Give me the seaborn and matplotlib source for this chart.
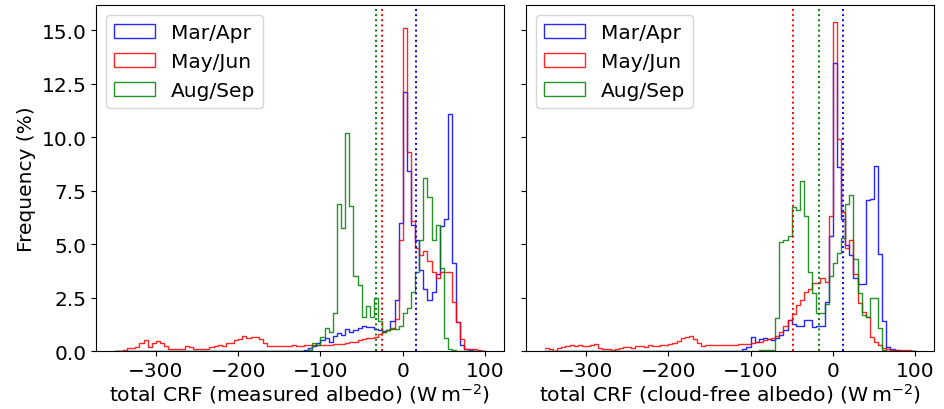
import numpy as np
import pandas as pd
import matplotlib
matplotlib.use("Agg")
import matplotlib.pyplot as plt
from matplotlib.patches import Patch
import seaborn as sns

# Bin edges of the CRF histograms (W m-2), 5 W m-2 wide
bin_edges = np.arange(-350, 101, 5)
bin_centers = bin_edges[:-1] + 2.5

seasons = ["Mar/Apr", "May/Jun", "Aug/Sep"]
colors = ["blue", "red", "green"]

# Frequency (%) per bin, measured albedo
measured_marapr = (
    [0.0] * 45
    + [0.03, 0.05, 0.15, 0.25, 0.4, 0.5, 0.6, 0.45, 0.7, 0.85,
       0.75, 1.05, 0.9, 1.0, 1.1, 1.2, 1.15, 1.15, 1.05, 1.0,
       0.95, 1.0, 1.4, 2.4, 6.0, 12.1, 8.4, 5.9, 5.2, 3.8,
       2.9, 2.4, 2.75, 3.6, 5.85, 6.2, 11.1, 4.1, 1.36, 0.27,
       0.08, 0.05, 0.03, 0.0, 0.0]
)
measured_mayjun = [
    0.0, 0.0, 0.05, 0.16, 0.16, 0.2, 0.36, 0.53, 0.2, 0.4,
    0.48, 0.37, 0.22, 0.12, 0.12, 0.08, 0.12, 0.23, 0.19, 0.12,
    0.11, 0.08, 0.11, 0.19, 0.25, 0.31, 0.25, 0.39, 0.4, 0.5,
    0.58, 0.72, 0.61, 0.64, 0.64, 0.58, 0.37, 0.23, 0.23, 0.23,
    0.25, 0.25, 0.25, 0.3, 0.23, 0.23, 0.27, 0.31, 0.3, 0.3,
    0.3, 0.3, 0.3, 0.32, 0.35, 0.35, 0.38, 0.42, 0.45, 0.5,
    0.55, 0.6, 0.62, 0.68, 0.8, 0.92, 1.0, 1.05, 1.5, 5.2,
    15.1, 9.3, 6.1, 4.8, 4.5, 4.7, 4.2, 3.7, 3.4, 3.7,
    3.7, 3.7, 2.3, 1.36, 0.55, 0.12, 0.08, 0.08, 0.06, 0.03,
]
measured_augsep = (
    [0.0] * 47
    + [0.05, 0.4, 0.3, 0.66, 1.1, 0.9, 1.8, 6.9, 5.75, 10.2,
       6.8, 3.5, 3.1, 1.6, 2.1, 1.6, 2.5, 1.4, 0.9, 1.0,
       1.1, 1.05, 1.2, 1.8, 2.0, 2.75, 3.7, 5.2, 8.1, 7.2,
       5.2, 5.9, 3.9, 0.6, 0.1, 0.05]
    + [0.0] * 7
)

# Frequency (%) per bin, cloud-free albedo
cloudfree_marapr = (
    [0.0] * 37
    + [0.02] * 11
    + [0.1, 0.2, 0.66, 0.45, 0.58, 0.62, 0.55, 0.5, 0.6, 0.75,
       1.0, 1.44, 1.28, 1.2, 1.2, 1.47, 1.44, 1.12, 1.2, 1.2,
       2.3, 5.4, 13.45, 8.6, 6.2, 4.95, 4.5, 3.4, 3.15, 3.15,
       7.05, 7.13, 8.64, 4.55, 1.43, 0.2, 0.08, 0.05, 0.03, 0.02,
       0.0, 0.0]
)
cloudfree_mayjun = [
    0.14, 0.08, 0.03, 0.17, 0.2, 0.22, 0.27, 0.22, 0.27, 0.23,
    0.22, 0.27, 0.33, 0.14, 0.11, 0.08, 0.06, 0.11, 0.16, 0.2,
    0.2, 0.16, 0.23, 0.25, 0.19, 0.28, 0.25, 0.22, 0.27, 0.3,
    0.34, 0.36, 0.47, 0.6, 0.64, 0.7, 0.58, 0.4, 0.22, 0.27,
    0.28, 0.28, 0.3, 0.28, 0.3, 0.3, 0.31, 0.33, 0.33, 0.33,
    0.36, 0.42, 0.45, 0.5, 0.55, 0.6, 0.73, 0.9, 1.2, 1.45,
    1.72, 2.14, 2.37, 2.77, 2.9, 3.2, 3.2, 3.4, 3.25, 6.3,
    15.4, 9.9, 6.5, 4.8, 5.2, 3.6, 2.25, 1.85, 1.6, 0.65,
    0.42, 0.27, 0.14, 0.08, 0.06, 0.06, 0.06, 0.05, 0.05, 0.03,
]
cloudfree_augsep = (
    [0.0] * 52
    + [0.05, 0.05, 0.05, 0.05, 1.55, 5.1, 5.2, 5.4, 6.75, 6.6,
       7.95, 6.3, 3.7, 2.7, 1.8, 1.8, 2.2, 3.5, 4.1, 4.6,
       5.3, 6.9, 7.3, 4.3, 2.7, 1.7, 1.6, 2.5, 2.5, 1.1,
       0.05]
    + [0.0] * 7
)

# Seasonal mean CRF (W m-2), drawn as dotted lines
measured_means = [16.2, -24.8, -32.1]
cloudfree_means = [12.5, -49.0, -16.6]

panels = [
    ("measured albedo", [measured_marapr, measured_mayjun, measured_augsep], measured_means),
    ("cloud-free albedo", [cloudfree_marapr, cloudfree_mayjun, cloudfree_augsep], cloudfree_means),
]

plt.rcParams["font.size"] = 14.5

fig, axes = plt.subplots(1, 2, figsize=(9.44, 4.10), dpi=100, sharey=True)
fig.subplots_adjust(left=0.102, right=0.989, top=0.985, bottom=0.141, wspace=0.056)

edge_list = [float(e) for e in bin_edges]

for ax, (name, series, means) in zip(axes, panels):
    for vals, color in zip(series, colors):
        df = pd.DataFrame({"crf": bin_centers, "freq": np.asarray(vals, dtype=float)})
        sns.histplot(data=df, x="crf", weights="freq", bins=edge_list, element="step",
                     fill=False, color=color, alpha=0.85, linewidth=1.0, ax=ax)
    for m, color in zip(means, colors):
        ax.axvline(m, color=color, linestyle=":", linewidth=1.4)
    ax.set_xlabel(f"total CRF ({name}) " + r"($\mathrm{W\,m^{-2}}$)",
                  fontsize=14.7, labelpad=0.5)
    ax.set_ylabel("")
    handles = [Patch(facecolor="none", edgecolor=c, alpha=0.85, label=s)
               for s, c in zip(seasons, colors)]
    ax.legend(handles=handles, loc="upper left")

axes[0].set_ylabel("Frequency (%)")
axes[1].tick_params(labelleft=False)

fig.savefig("out.png", dpi=100)
